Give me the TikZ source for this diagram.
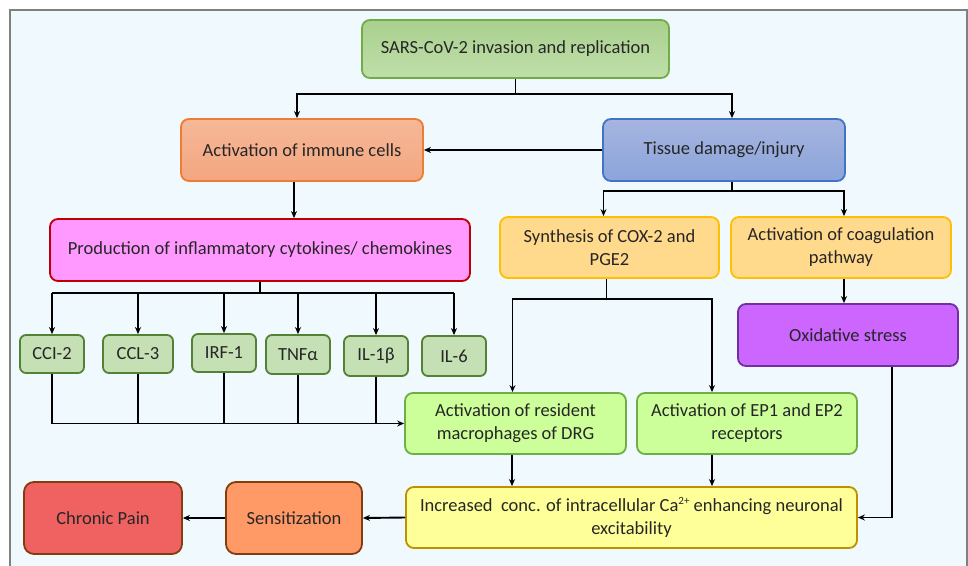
\documentclass[tikz,border=0pt]{standalone}
\usepackage{fontspec}
\setmainfont{Carlito}
\usetikzlibrary{arrows.meta, positioning, calc}
\definecolor{bgblue}{RGB}{240,249,253}
\definecolor{sarsline}{RGB}{112,173,71}
\definecolor{sarstop}{RGB}{169,208,142}
\definecolor{sarsbot}{RGB}{192,223,170}
\definecolor{immline}{RGB}{237,125,49}
\definecolor{immtop}{RGB}{245,184,152}
\definecolor{immbot}{RGB}{244,166,128}
\definecolor{tisline}{RGB}{68,114,196}
\definecolor{tistop}{RGB}{166,181,224}
\definecolor{tisbot}{RGB}{139,164,218}
\definecolor{prodfill}{RGB}{255,153,255}
\definecolor{prodline}{RGB}{192,0,0}
\definecolor{coxline}{RGB}{255,192,0}
\definecolor{coxfill}{RGB}{255,217,140}
\definecolor{oxfill}{RGB}{204,102,255}
\definecolor{oxline}{RGB}{112,48,160}
\definecolor{macfill}{RGB}{204,255,153}
\definecolor{cytfill}{RGB}{197,224,180}
\definecolor{cytline}{RGB}{84,130,53}
\definecolor{incfill}{RGB}{255,255,153}
\definecolor{incline}{RGB}{191,144,0}
\definecolor{sensfill}{RGB}{255,153,102}
\definecolor{painfill}{RGB}{240,98,98}
\definecolor{brownline}{RGB}{132,60,12}
\newcommand{\supsmall}[1]{\raisebox{0.75ex}{\fontsize{11}{11}\selectfont #1}}

\begin{document}
\begin{tikzpicture}[x=1pt, y=-1pt,
  every node/.style={font=\fontsize{18.5}{23}\selectfont, text=black!85},
  box/.style={draw, rounded corners=8pt, line width=1.8pt, align=center, inner sep=0pt},
  cytbox/.style={box, rounded corners=6pt, fill=cytfill, draw=cytline, minimum width=64, minimum height=38},
  arr/.style={-{Stealth[length=7pt,width=6pt]}, line width=1.9pt},
  bus/.style={line width=1.9pt}]
\useasboundingbox (0,0) rectangle (968,565);
% Frame
\draw[gray, line width=1.5pt, fill=bgblue] (10,10) rectangle (967,590);
% Top row
\node[box, draw=sarsline, top color=sarstop, bottom color=sarsbot, minimum width=307, minimum height=58] (sars) at (515.5,49) {SARS-CoV-2 invasion and replication};
\node[box, draw=immline, top color=immtop, bottom color=immbot, minimum width=242, minimum height=62] (immune) at (302,150) {Activation of immune cells};
\node[box, draw=tisline, top color=tistop, bottom color=tisbot, minimum width=242, minimum height=62] (tissue) at (724,150) {Tissue damage/injury};
% Second row
\node[box, draw=prodline, fill=prodfill, minimum width=420, minimum height=62] (prod) at (260,250) {Production of inflammatory cytokines/ chemokines};
\node[box, draw=coxline, fill=coxfill, minimum width=219, minimum height=61] (cox) at (609.5,247.5) {Synthesis of COX-2 and\\PGE2};
\node[box, draw=coxline, fill=coxfill, minimum width=220, minimum height=61] (coag) at (841,247.5) {Activation of coagulation\\pathway};
\node[box, draw=oxline, fill=oxfill, minimum width=220, minimum height=62] (oxid) at (848,335) {Oxidative stress};
% Cytokines
\node[cytbox] (cci) at (52,354) {CCI-2};
\node[cytbox, minimum width=70] (ccl) at (138,354) {CCL-3};
\node[cytbox] (irf) at (224,353) {IRF-1};
\node[cytbox, minimum height=39] (tnf) at (298,354.5) {TNFα};
\node[cytbox, minimum height=40] (ilb) at (376,356) {IL-1β};
\node[cytbox, minimum height=40] (ilsix) at (454,356) {IL-6};
% Third row
\node[box, draw=sarsline, fill=macfill, minimum width=221, minimum height=61] (macro) at (515.5,423.5) {Activation of resident\\macrophages of DRG};
\node[box, draw=sarsline, fill=macfill, minimum width=220, minimum height=61] (ep) at (747,423.5) {Activation of EP1 and EP2\\receptors};
% Bottom row
\node[box, draw=incline, fill=incfill, minimum width=451, minimum height=61] (incr) at (631.5,517.5) {Increased\ \ conc. of intracellular Ca\supsmall{2+} enhancing neuronal\\excitability};
\node[box, rounded corners=10pt, draw=brownline, fill=sensfill, minimum width=136, minimum height=72] (sens) at (294,518) {Sensitization};
\node[box, rounded corners=10pt, draw=brownline, fill=painfill, minimum width=158, minimum height=72] (pain) at (103,518) {Chronic Pain};
% Arrows from SARS-CoV-2
\draw[bus] (sars.south) -- ++(0,15) coordinate (sbus);
\draw[arr] (sbus) -| ([xshift=-5pt]immune.north);
\draw[arr] (sbus) -| ([xshift=8pt]tissue.north);
\draw[arr] (tissue.west) -- (immune.east);
\draw[arr] ([xshift=-8pt]immune.south) -- ([xshift=-8pt]immune.south |- prod.north);
% Cytokines
\draw[bus] (prod.south) -- ++(0,11) coordinate (pbus);
\draw[bus] (cci.north |- pbus) -- (ilsix.north |- pbus);
\foreach \n in {cci,ccl,irf,tnf,ilb,ilsix}
  \draw[arr] (\n.north |- pbus) -- (\n.north);
\draw[arr] (cci.south) |- (macro.west);
\foreach \n in {ccl,irf,tnf,ilb}
  \draw[bus] (\n.south) -- (\n.south |- macro.west);
% Tissue damage branches
\draw[bus] ([xshift=8pt]tissue.south) -- ++(0,9) coordinate (tbus);
\draw[arr] (tbus) -| ([xshift=-6pt]cox.north);
\draw[arr] (tbus) -| ([xshift=3pt]coag.north);
\draw[bus] ([xshift=-3pt]cox.south) -- ++(0,20) coordinate (xbus);
\draw[arr] (xbus) -| ([xshift=-3pt]macro.north);
\draw[arr] (xbus) -| ([xshift=-35pt]ep.north);
\draw[arr] ([xshift=3pt]coag.south) -- ([xshift=3pt]coag.south |- oxid.north);
\draw[arr] ([xshift=44pt]oxid.south) |- (incr.east);
% Into calcium box
\draw[arr] ([xshift=-3.5pt]macro.south) -- ([xshift=-3.5pt]macro.south |- incr.north);
\draw[arr] ([xshift=-35pt]ep.south) -- ([xshift=-35pt]ep.south |- incr.north);
\draw[arr] (incr.west) -- (sens.east);
\draw[arr] (sens.west) -- (pain.east);
\end{tikzpicture}
\end{document}
